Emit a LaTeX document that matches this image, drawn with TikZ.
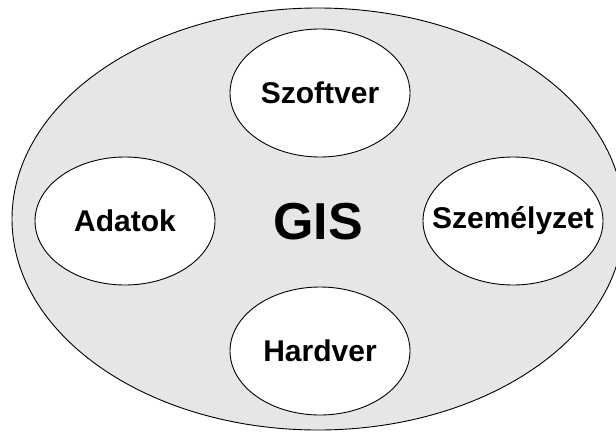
\documentclass[tikz,border=0pt]{standalone}
\usepackage{fontspec}
\setmainfont{Liberation Sans}
\usetikzlibrary{shapes.geometric}
\definecolor{bggray}{RGB}{230,230,230}
\tikzset{
  part/.style={ellipse, draw=black, line width=0.9bp, fill=white, minimum width=180bp, minimum height=128bp, inner sep=0pt},
  partlabel/.style={font=\fontsize{30bp}{30bp}\selectfont\bfseries, text=black},
}
\begin{document}
\begin{tikzpicture}[x=1bp,y=1bp]
\useasboundingbox (0,0) rectangle (616,432);
\clip (0,0) rectangle (616,432);
\fill[white] (0,0) rectangle (616,432);
\node[ellipse, draw=black, line width=0.9bp, fill=bggray, minimum width=612bp, minimum height=422bp, inner sep=0pt, font=\fontsize{52bp}{52bp}\selectfont\bfseries] (gis) at (318,213) {};
\node[font=\fontsize{52bp}{52bp}\selectfont\bfseries] (gistext) at (318,210) {GIS};
\node[part] (szoftver) at (320,339) {};
\node[partlabel] (szoftvertext) at (320,339) {Szoftver};
\node[part] (adatok) at (125,211) {};
\node[partlabel] (adatoktext) at (125,211) {Adatok};
\node[part] (szemelyzet) at (513,211) {};
\node[partlabel] (szemelyzettext) at (513,211) {Személyzet};
\node[part] (hardver) at (320,81) {};
\node[partlabel] (hardvertext) at (320,81) {Hardver};
\end{tikzpicture}
\end{document}
